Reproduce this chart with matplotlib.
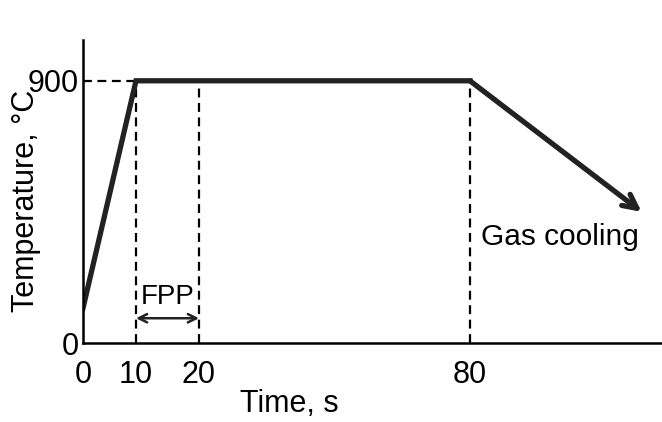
import numpy as np
import matplotlib
matplotlib.use('Agg')
import matplotlib.pyplot as plt

plt.rcParams['font.family'] = ['Liberation Sans', 'DejaVu Sans']

# schematic heat-treatment profile
heat_time = [0, 10, 80]
heat_temp = [120, 900, 900]
cool_end = (118, 450)
fpp_window = [10, 20]
guide_times = [10, 20, 80]
x_ticks = [0, 10, 20, 80]
y_ticks = [0, 900]

# the time axis is not to scale: piecewise-linear mapping
t_knots = [0, 10, 20, 80, 130]
u_knots = [0, 53, 116, 387, 613]


def fwd(t):
    return np.interp(t, t_knots, u_knots)


def inv(u):
    return np.interp(u, u_knots, t_knots)


fig = plt.figure(figsize=(6.62, 4.22), dpi=100)
ax = fig.add_axes([0.1254, 0.1872, 0.8746, 0.718])
ax.set_xscale('function', functions=(fwd, inv))
ax.set_xlim(0, 122.5)
ax.set_ylim(0, 1040)

# dashed guides
ax.plot([0, 10], [900, 900], 'k--', lw=1.6, dashes=(4, 2.5))
for t in guide_times:
    ax.plot([t, t], [0, 900], 'k--', lw=1.6, dashes=(4, 2.5))

ax.plot(heat_time, heat_temp, color='#222222', lw=3.8, solid_joinstyle='miter')
ax.annotate('', xy=cool_end, xytext=(heat_time[-1], heat_temp[-1]),
            arrowprops=dict(arrowstyle='->,head_length=1.0,head_width=0.5',
                            color='#222222', lw=3.8, shrinkA=0, shrinkB=0))

# FPP double arrow
ax.annotate('', xy=(fpp_window[0], 85), xytext=(fpp_window[1], 85),
            arrowprops=dict(arrowstyle='<->,head_length=0.6,head_width=0.3',
                            color='#222222', lw=1.8, shrinkA=0, shrinkB=0))
ax.text(15, 158, 'FPP', ha='center', va='center', fontsize=20)
ax.text(82.5, 365, 'Gas cooling', ha='left', va='center', fontsize=21.5)

ax.set_xticks(x_ticks)
ax.set_xticklabels([str(v) for v in x_ticks])
ax.set_yticks(y_ticks)
ax.set_yticklabels([str(v) for v in y_ticks])
ax.tick_params(length=0, labelsize=22)
ax.tick_params(axis='x', pad=12)
ax.tick_params(axis='y', pad=3)

for s in ['top', 'right']:
    ax.spines[s].set_visible(False)
for s in ['left', 'bottom']:
    ax.spines[s].set_linewidth(1.8)

ax.set_ylabel('Temperature, \u00b0C', fontsize=22)
ax.yaxis.set_label_coords(-0.072, 0.47)
fig.text(289 / 662, 1 - 404 / 422, 'Time, s', ha='center', va='center', fontsize=22)

fig.savefig('out.png', dpi=100)
